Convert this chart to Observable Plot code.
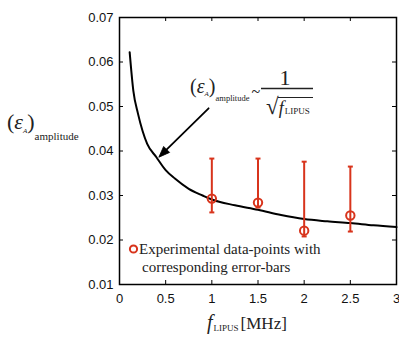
<!DOCTYPE html>
<html><head><meta charset="utf-8">
<script src="https://cdn.jsdelivr.net/npm/d3@7"></script>
<script src="https://cdn.jsdelivr.net/npm/@observablehq/plot@0.6"></script>
<style>body{margin:0;background:#fff}svg{display:block}</style>
</head><body><div id="chart"></div>
<script>
// Tick values
const xTicks = [0, 0.5, 1, 1.5, 2, 2.5, 3];
const yTicks = [0.01, 0.02, 0.03, 0.04, 0.05, 0.06, 0.07];

// Experimental data-points with error bars
const expF    = [1, 1.5, 2, 2.5];
const expVal  = [0.0293, 0.0284, 0.0221, 0.0255];
const expLow  = [0.0262, 0.0273, 0.0208, 0.0219];
const expHigh = [0.0383, 0.0383, 0.0376, 0.0365];

// Fitted curve
const fitF   = [0.11, 0.15, 0.2, 0.25, 0.3, 0.4, 0.5, 0.6, 0.75, 0.9, 1.0, 1.25, 1.5, 1.75, 2.0, 2.25, 2.5, 2.75, 3.0];
const fitVal = [0.0622, 0.0535, 0.0484, 0.0445, 0.0416, 0.0386, 0.0357, 0.0338, 0.0315, 0.0300, 0.0291, 0.0278, 0.0268, 0.0256, 0.0247, 0.0242, 0.0238, 0.0233, 0.0229];

// Annotation arrow (from label to curve)
const arrowFrom = [0.965, 0.0496];
const arrowTo   = [0.426, 0.0386];

const RED = "#d8341c";
const exp = expF.map((f, i) => ({f, v: expVal[i], lo: expLow[i], hi: expHigh[i]}));
const fit = fitF.map((f, i) => ({f, v: fitVal[i]}));
const capSymbol = {draw(ctx, size) { ctx.moveTo(-2.5, 0); ctx.lineTo(2.5, 0); }};
const headSymbol = {draw(ctx, size) { ctx.moveTo(0, 0); ctx.lineTo(4.2, 11); ctx.lineTo(-4.2, 11); ctx.closePath(); }};

const W = 399, H = 342, mL = 119, mR = 3, mT = 17, mB = 58;
const pw = W - mL - mR, ph = H - mT - mB;

const plot = Plot.plot({
  width: W, height: H,
  marginLeft: mL, marginRight: mR, marginTop: mT, marginBottom: mB,
  style: {fontFamily: "'Liberation Sans', Arial, sans-serif", fontSize: "13px", background: "#fff", color: "#111"},
  x: {domain: [0, 3]},
  y: {domain: [0.01, 0.07]},
  marks: [
    Plot.line(fit, {x: "f", y: "v", curve: "monotone-x", stroke: "#000", strokeWidth: 2}),
    Plot.ruleX(exp, {x: "f", y1: "lo", y2: "hi", stroke: RED, strokeWidth: 2}),
    Plot.dot(exp, {x: "f", y: "lo", symbol: capSymbol, stroke: RED, strokeWidth: 2}),
    Plot.dot(exp, {x: "f", y: "hi", symbol: capSymbol, stroke: RED, strokeWidth: 2}),
    Plot.dot(exp, {x: "f", y: "v", r: 4.2, stroke: RED, strokeWidth: 2, fill: "none"}),
    Plot.arrow([{x1: arrowFrom[0], y1: arrowFrom[1], x2: arrowTo[0], y2: arrowTo[1]}],
      {x1: "x1", y1: "y1", x2: "x2", y2: "y2", stroke: "#000", strokeWidth: 1.8, headLength: 0, insetEnd: 4}),
    Plot.dot([{x: arrowTo[0], y: arrowTo[1]}], {x: "x", y: "y", symbol: headSymbol, rotate: 225, fill: "#000", stroke: "#000", strokeWidth: 0.8}),
    Plot.tickX(xTicks, {x: d => d, insetTop: ph - 4, stroke: "#000"}),
    Plot.tickX(xTicks, {x: d => d, insetBottom: ph - 4, stroke: "#000"}),
    Plot.tickY(yTicks, {y: d => d, insetRight: pw - 4, stroke: "#000"}),
    Plot.tickY(yTicks, {y: d => d, insetLeft: pw - 4, stroke: "#000"}),
    Plot.axisX({ticks: xTicks, tickSize: 0, tickPadding: 9, tickFormat: d => String(d), label: null}),
    Plot.axisY({ticks: yTicks, tickSize: 0, tickPadding: 6, tickFormat: d => d.toFixed(2), label: null}),
    Plot.frame({stroke: "#000", strokeWidth: 1.5})
  ]
});
document.getElementById("chart").appendChild(plot);

const svg = d3.select(plot);
const serif = "'Liberation Serif', 'Times New Roman', serif";
const txt = (x, y) => svg.append("text").attr("x", x).attr("y", y)
  .attr("text-anchor", "start").attr("font-family", serif).attr("fill", "#222");

// Y axis label
const yl = txt(7, 129);
yl.append("tspan").attr("font-size", 22).text("(");
yl.append("tspan").attr("font-size", 22).attr("font-style", "italic").text("ε");
yl.append("tspan").attr("font-size", 7).attr("font-style", "italic").attr("dy", 4).text("A");
yl.append("tspan").attr("font-size", 22).attr("dy", -4).text(")");
yl.append("tspan").attr("font-size", 11).attr("dy", 11).text("amplitude");

// X axis label
const xl = txt(207, 329);
xl.append("tspan").attr("font-size", 20).attr("font-style", "italic").text("f");
xl.append("tspan").attr("font-size", 9).attr("dy", 2).attr("dx", 1).text("LIPUS");
xl.append("tspan").attr("font-size", 17).attr("dy", -2).attr("dx", 2).text("[MHz]");

// Annotation formula
const an = txt(190, 93);
an.append("tspan").attr("font-size", 20).text("(");
an.append("tspan").attr("font-size", 20).attr("font-style", "italic").text("ε");
an.append("tspan").attr("font-size", 7).attr("font-style", "italic").attr("dy", 3).text("A");
an.append("tspan").attr("font-size", 20).attr("dy", -3).text(")");
an.append("tspan").attr("font-size", 8.5).attr("dy", 8).text("amplitude");
an.append("tspan").attr("font-size", 16).attr("dy", -4).attr("dx", 2).text("~");
txt(285, 85).attr("text-anchor", "middle").attr("font-size", 22).text("1");
svg.append("line").attr("x1", 261).attr("x2", 313).attr("y1", 88.5).attr("y2", 88.5).attr("stroke", "#222").attr("stroke-width", 1.3);
const sq = txt(266, 114);
sq.append("tspan").attr("font-size", 23).text("√");
sq.append("tspan").attr("font-size", 18).attr("font-style", "italic").text("f");
sq.append("tspan").attr("font-size", 9).attr("dy", 0).attr("dx", 1).text("LIPUS");
svg.append("line").attr("x1", 278).attr("x2", 313).attr("y1", 97.5).attr("y2", 97.5).attr("stroke", "#222").attr("stroke-width", 1.2);

// Legend
svg.append("circle").attr("cx", 133.5).attr("cy", 249).attr("r", 3.6).attr("fill", "none").attr("stroke", RED).attr("stroke-width", 2);
txt(139, 254).attr("font-size", 15).text("Experimental data-points with");
txt(142, 272).attr("font-size", 15).text("corresponding error-bars");
</script>
</body></html>
